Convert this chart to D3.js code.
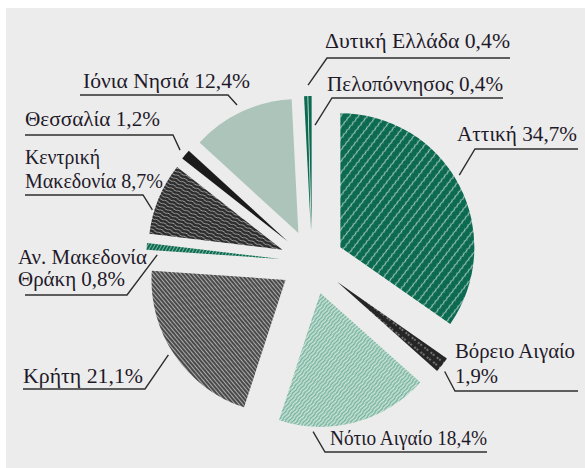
<!DOCTYPE html>
<html>
<head>
<meta charset="utf-8">
<script src="https://cdn.jsdelivr.net/npm/d3@7"></script>
<style>
  body { margin: 0; background: #ffffff; }
  svg { display: block; }
</style>
</head>
<body>
<div id="chart"></div>
<script>
// DATA (clockwise from 12 o'clock)
var regions = ['Αττική', 'Βόρειο Αιγαίο', 'Νότιο Αιγαίο', 'Κρήτη', 'Αν. Μακεδονία Θράκη',
   'Κεντρική Μακεδονία', 'Θεσσαλία', 'Ιόνια Νησιά', 'Πελοπόννησος', 'Δυτική Ελλάδα'];
var shares = [34.7, 1.9, 18.4, 21.1, 0.8, 8.7, 1.2, 12.4, 0.4, 0.4];
var labelLines = [
   ['Αττική 34,7%'],
   ['Βόρειο Αιγαίο', '1,9%'],
   ['Νότιο Αιγαίο 18,4%'],
   ['Κρήτη 21,1%'],
   ['Αν. Μακεδονία', 'Θράκη 0,8%'],
   ['Κεντρική', 'Μακεδονία 8,7%'],
   ['Θεσσαλία 1,2%'],
   ['Ιόνια Νησιά 12,4%'],
   ['Πελοπόννησος 0,4%'],
   ['Δυτική Ελλάδα 0,4%']
];

// LAYOUT
var settings = {
   width: 585, height: 468,
   cx: 312, cy: 262, radius: 134, explode: 32,
   panel: '#ececec', ink: '#1f1a2a', leader: '#2e2e2e',
   font: '"Liberation Serif", "DejaVu Serif", serif', fontSize: 20
};

// label text origin, line step, text widths, underline, leader angle (deg) / radius
var labelLayout = [
   { x: 457, y: 141, step: 0,  w: [120],      u: [475, 578, 149], la: 58.8,  lr: 139 },
   { x: 455, y: 358, step: 25, w: [120, 43],  u: [455, 578, 391], la: 129.8, lr: 140 },
   { x: 330, y: 445, step: 0,  w: [157],      u: [325, 487, 452], la: 183,   lr: 139 },
   { x: 23,  y: 383, step: 0,  w: [120],      u: [23, 145, 389],  la: 237.4, lr: 139 },
   { x: 18,  y: 264, step: 22, w: [129, 107], u: [25, 127, 295],  la: 271.9, lr: 123 },
   { x: 25,  y: 164, step: 24, w: [75, 138],  u: [25, 143, 195],  la: 287,   lr: 136 },
   { x: 25,  y: 126, step: 0,  w: [135],      u: [25, 173, 135],  la: 310.3, lr: 141 },
   { x: 83,  y: 88,  step: 0,  w: [167],      u: [80, 228, 95],   la: 334.4, lr: 142 },
   { x: 327, y: 91,  step: 0,  w: [176],      u: [332, 503, 98],  la: 2.3,   lr: 105 },
   { x: 325, y: 48,  step: 0,  w: [185],      u: [327, 510, 58],  la: 358.6, lr: 145 }
];

// SLICE FILLS
var fills = ['url(#p-attiki)', 'url(#p-voreio)', 'url(#p-notio)', 'url(#p-kriti)', 'url(#p-anmak)',
   'url(#p-kentriki)', '#1b1b1b', '#adc4ba', '#0b6a4f', '#0b6a4f'];

// GENERATE CANVAS
var svg = d3.select('#chart').append('svg')
   .attr('width', settings.width)
   .attr('height', settings.height)

svg.append('rect')
   .attr('x', 6).attr('y', 8)
   .attr('width', settings.width - 6).attr('height', settings.height - 8)
   .attr('fill', settings.panel)

var defs = svg.append('defs');

// HATCH PATTERN HELPER
function hatch(id, bg, fg, gap, angle, sw, wave, dash, period) {
   var w = period || 8;
   var p = defs.append('pattern')
      .attr('id', id)
      .attr('patternUnits', 'userSpaceOnUse')
      .attr('width', w).attr('height', gap)
      .attr('patternTransform', 'rotate(' + angle + ')')
   p.append('rect').attr('width', w).attr('height', gap).attr('fill', bg)
   var mid = gap / 2;
   p.append('path')
      .attr('d', wave ? 'M0,' + mid + ' q' + (w / 4) + ',' + (-wave) + ' ' + (w / 2) + ',0 t' + (w / 2) + ',0' : 'M0,' + mid + ' H' + w)
      .attr('fill', 'none')
      .attr('stroke', fg)
      .attr('stroke-width', sw)
      .attr('stroke-dasharray', dash || null)
}

hatch('p-attiki', '#0b6a4f', '#eef5f2', 7, -52, 0.8, 0.9, null, 5);
hatch('p-voreio', '#262626', '#e0e0e0', 6, 38.5, 0.8, 0, '2,3');
hatch('p-notio', '#d6eae2', '#79b49f', 3, -50, 1.7, 0.7);
hatch('p-kriti', '#4a4a4a', '#c4c4c4', 3, 50, 0.8, 0);
hatch('p-anmak', '#0b6a4f', '#9cc8b8', 3, -60, 0.8, 0);
hatch('p-kentriki', '#2c2c2c', '#b5b5b5', 3.5, 25, 0.8, 1.2);

// PIE + ARC GENERATORS
var pie = d3.pie().sort(null).value((d) => { return d })
var arcs = pie(shares);
var arc = d3.arc().innerRadius(0).outerRadius(settings.radius)

function offset(a) {
   var mid = (a.startAngle + a.endAngle) / 2;
   return [settings.cx + settings.explode * Math.sin(mid), settings.cy - settings.explode * Math.cos(mid)];
}

// GENERATE SLICES
svg.selectAll('path.slice')
   .data(arcs)
      .enter().append('path')
         .attr('class', 'slice')
         .attr('transform', (a) => { var o = offset(a); return 'translate(' + o[0] + ',' + o[1] + ')' })
         .attr('d', arc)
         .attr('fill', (a, i) => { return fills[i] })

// GENERATE LEADERS + UNDERLINES
var labels = svg.selectAll('g.label')
   .data(arcs)
      .enter().append('g')
         .attr('class', 'label')

labels.append('path')
   .attr('fill', 'none')
   .attr('stroke', settings.leader)
   .attr('stroke-width', 1.4)
   .attr('d', (a, i) => {
      var L = labelLayout[i], o = offset(a), t = L.la * Math.PI / 180;
      var px = o[0] + L.lr * Math.sin(t), py = o[1] - L.lr * Math.cos(t);
      var jx = L.x > settings.cx ? L.u[0] : L.u[1];
      var fx = L.x > settings.cx ? L.u[1] : L.u[0];
      return 'M' + px + ',' + py + 'L' + jx + ',' + L.u[2] + 'L' + fx + ',' + L.u[2];
   })

// GENERATE LABEL TEXT
labels.each(function (a, i) {
   var L = labelLayout[i];
   d3.select(this).selectAll('text')
      .data(labelLines[i])
         .enter().append('text')
            .attr('x', L.x)
            .attr('y', (s, j) => { return L.y + j * L.step })
            .attr('textLength', (s, j) => { return L.w[j] })
            .attr('lengthAdjust', 'spacingAndGlyphs')
            .attr('font-family', settings.font)
            .attr('font-size', settings.fontSize)
            .attr('fill', settings.ink)
            .text((s) => { return s })
});
</script>
</body>
</html>
